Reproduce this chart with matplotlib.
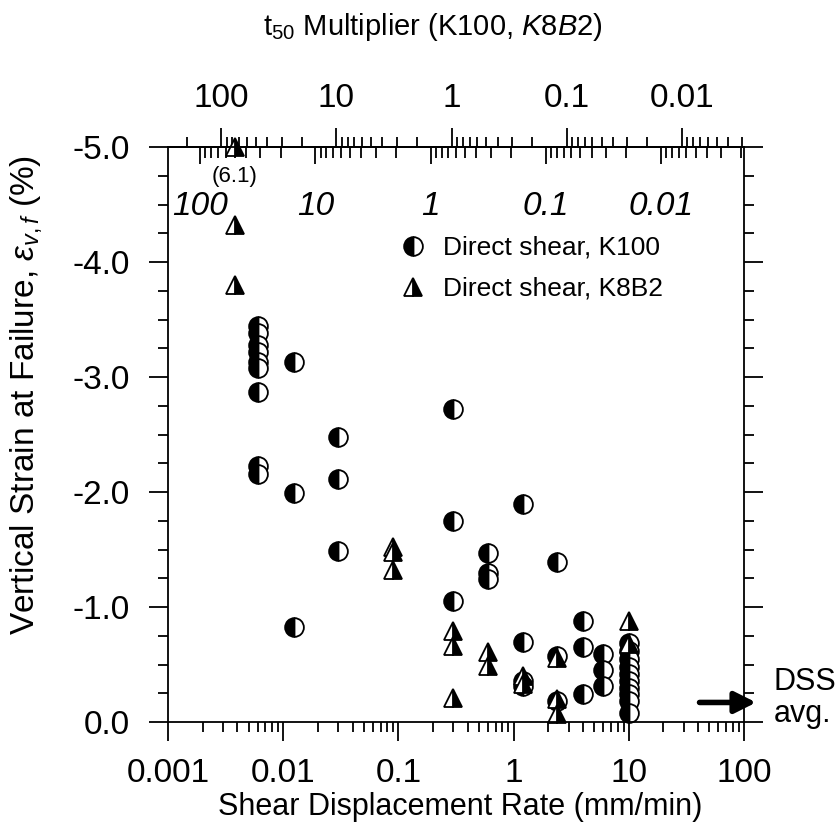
import matplotlib
matplotlib.use('Agg')
import numpy as np
import matplotlib.pyplot as plt
from matplotlib.ticker import MultipleLocator, FormatStrFormatter, FuncFormatter, NullFormatter, LogLocator

plt.rcParams['font.family'] = 'Liberation Sans'
plt.rcParams['axes.unicode_minus'] = True
plt.rcParams['mathtext.fontset'] = 'custom'
plt.rcParams['mathtext.rm'] = 'Liberation Sans'
plt.rcParams['mathtext.it'] = 'Liberation Sans:italic'

# direct shear, K100 (shear displacement rate mm/min, vertical strain at failure %)
k100_rate = [0.006, 0.006, 0.006, 0.006, 0.006, 0.006, 0.006, 0.006, 0.006,
             0.0125, 0.0125, 0.0125,
             0.03, 0.03, 0.03,
             0.3, 0.3, 0.3,
             0.6, 0.6, 0.6,
             1.2, 1.2, 1.2, 1.2,
             2.4, 2.4, 2.4,
             4, 4, 4,
             6, 6, 6,
             10, 10, 10, 10, 10, 10, 10, 10, 10, 10]
k100_strain = [-3.44, -3.38, -3.28, -3.22, -3.13, -3.08, -2.87, -2.23, -2.16,
               -3.13, -1.99, -0.83,
               -2.48, -2.11, -1.49,
               -2.72, -1.75, -1.05,
               -1.47, -1.30, -1.24,
               -1.90, -0.70, -0.36, -0.31,
               -1.39, -0.57, -0.18,
               -0.88, -0.65, -0.24,
               -0.59, -0.45, -0.31,
               -0.69, -0.62, -0.55, -0.48, -0.42, -0.36, -0.30, -0.24, -0.18, -0.08]

# direct shear, K8B2
k8b2_rate = [0.0038, 0.0038, 0.0038,
             0.09, 0.09, 0.09,
             0.3, 0.3, 0.3,
             0.6, 0.6,
             1.2, 1.2,
             2.4, 2.4, 2.4,
             10, 10]
k8b2_strain = [-6.1, -4.32, -3.80,
               -1.52, -1.48, -1.32,
               -0.79, -0.66, -0.21,
               -0.61, -0.49,
               -0.40, -0.33,
               -0.56, -0.20, -0.07,
               -0.88, -0.68]

dss_avg = -0.17
t50_k100 = 0.29    # t50 multiplier = const / rate
t50_k8b2 = 0.19
top_ticks = [100, 10, 1, 0.1, 0.01]
top_labels = ['100', '10', '1', '0.1', '0.01']

fig = plt.figure(figsize=(8.4, 8.32), dpi=100)
ax = fig.add_axes([0.2, 0.1322, 0.6857, 0.6911])

ax.plot(k100_rate, k100_strain, linestyle='none', marker='o', fillstyle='left',
        markerfacecolor='black', markerfacecoloralt='white', markeredgecolor='black',
        markersize=13.5, markeredgewidth=1.3, clip_on=False, label='Direct shear, K100')
ax.plot(k8b2_rate, np.clip(k8b2_strain, -5.0, None), linestyle='none', marker='^',
        fillstyle='right', markerfacecolor='black', markerfacecoloralt='white',
        markeredgecolor='black', markersize=13.5, markeredgewidth=1.3, clip_on=False,
        label='Direct shear, K8B2')

ax.annotate('(%.1f)' % abs(k8b2_strain[0]), xy=(k8b2_rate[0], -5.0), xytext=(0, -21),
            textcoords='offset points', ha='center', va='center', fontsize=16)

ax.set_xscale('log')
ax.set_xlim(0.001, 100)
ax.set_ylim(0, -5)
ax.xaxis.set_major_formatter(FuncFormatter(lambda v, p: '%g' % v))
ax.xaxis.set_minor_formatter(NullFormatter())
ax.yaxis.set_major_locator(MultipleLocator(1.0))
ax.yaxis.set_minor_locator(MultipleLocator(0.25))
ax.yaxis.set_major_formatter(FormatStrFormatter('%.1f'))

for sp in ax.spines.values():
    sp.set_linewidth(1.3)
ax.tick_params(axis='x', which='both', direction='out', bottom=True, top=False,
               labelsize=24, pad=12, width=1.3)
ax.tick_params(axis='y', which='both', direction='out', left=True, right=True,
               labelsize=24, pad=13.5, width=1.3)
ax.tick_params(which='major', length=14)
ax.tick_params(which='minor', length=7)

ax.set_xlabel('Shear Displacement Rate (mm/min)', fontsize=22)
ax.set_ylabel(r'Vertical Strain at Failure, $\varepsilon_{v,f}$ (%)', fontsize=24)
ax.xaxis.set_label_coords(0.507, -0.122)
ax.yaxis.set_label_coords(-0.215, 0.569)

# top axis, K100 multiplier (ticks outside)
sec1 = ax.secondary_xaxis('top', functions=(lambda x: t50_k100 / x, lambda x: t50_k100 / x))
sec1.set_ticks(top_ticks, labels=top_labels)
sec1.xaxis.set_minor_locator(LogLocator(base=10, subs=np.arange(2, 10)))
sec1.xaxis.set_minor_formatter(NullFormatter())
sec1.tick_params(which='both', direction='out', labelsize=24, pad=10, width=1.3)
sec1.tick_params(which='major', length=14)
sec1.tick_params(which='minor', length=7)
sec1.spines['top'].set_linewidth(1.3)

# top axis, K8B2 multiplier (ticks inside, italic labels)
sec2 = ax.secondary_xaxis('top', functions=(lambda x: t50_k8b2 / x, lambda x: t50_k8b2 / x))
sec2.set_ticks(top_ticks, labels=top_labels, fontstyle='italic')
sec2.xaxis.set_minor_locator(LogLocator(base=10, subs=np.arange(2, 10)))
sec2.xaxis.set_minor_formatter(NullFormatter())
sec2.tick_params(which='both', direction='in', labelsize=24, pad=-54, width=1.3)
sec2.tick_params(which='major', length=12)
sec2.tick_params(which='minor', length=8)
sec2.spines['top'].set_linewidth(1.3)

fig.text(433 / 840, 1 - 27 / 832, r't$_{50}$ Multiplier (K100, $\mathit{K8B2}$)',
         ha='center', va='center', fontsize=21)

ax.legend(loc='center left', bbox_to_anchor=(0.402, 0.789), frameon=False,
          fontsize=19, numpoints=1, handlelength=1.0, handletextpad=0.64,
          borderpad=0, borderaxespad=0, labelspacing=0.64)

# DSS average arrow on the right
ax.annotate('', xy=(1.026, dss_avg), xytext=(0.918, dss_avg),
            xycoords=('axes fraction', 'data'), textcoords=('axes fraction', 'data'),
            arrowprops=dict(arrowstyle='-|>', lw=4, color='black', mutation_scale=32),
            annotation_clip=False)
ax.text(1.052, 0.042, 'DSS\navg.', transform=ax.transAxes, ha='left', va='center',
        fontsize=22, linespacing=1.1)

fig.savefig('out.png', dpi=100)
